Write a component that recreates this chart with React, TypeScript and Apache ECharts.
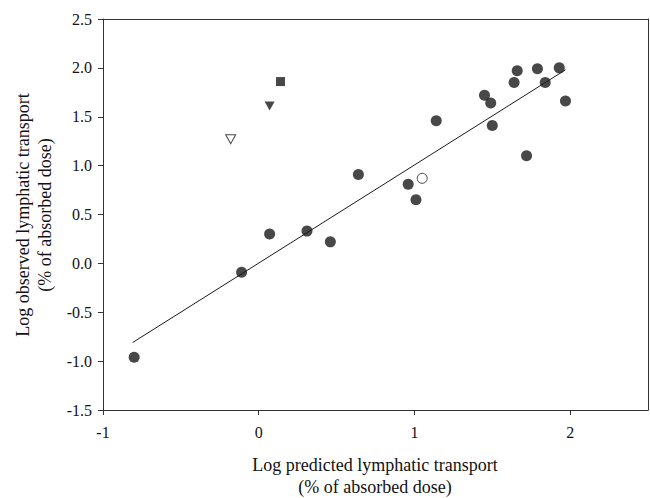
import React, { useEffect, useRef } from "react";
import * as echarts from "echarts";

// ---- data ----
const xTicks = [-1, 0, 1, 2];
const filledX = [-0.8, -0.11, 0.07, 0.31, 0.46, 0.64, 0.96, 1.01, 1.14, 1.45, 1.49, 1.5, 1.66, 1.64, 1.72, 1.79, 1.84, 1.93, 1.97];
const filledY = [-0.96, -0.09, 0.3, 0.33, 0.22, 0.91, 0.81, 0.65, 1.46, 1.72, 1.64, 1.41, 1.97, 1.85, 1.1, 1.99, 1.85, 2.0, 1.66];
const openCircleX = [1.05];
const openCircleY = [0.87];
const squareX = [0.14];
const squareY = [1.86];
const filledTriX = [0.07];
const filledTriY = [1.61];
const openTriX = [-0.18];
const openTriY = [1.27];
const fitX = [-0.81, 1.97];
const fitY = [-0.81, 1.98];

const xTitle = ["Log predicted lymphatic transport", "(% of absorbed dose)"];
const yTitle = ["Log observed lymphatic transport", "(% of absorbed dose)"];

const zip = (xs: number[], ys: number[]) => xs.map((x, i) => [x, ys[i]]);

const FONT = "'Liberation Serif', 'Times New Roman', serif";
const AXIS = "#333";
const INK = "#1a1a1a";

export default function App() {
  const ref = useRef<HTMLDivElement>(null);
  useEffect(() => {
    if (!ref.current) return;
    const chart = echarts.init(ref.current, null, { renderer: "svg" });
    const frameAxis = {
      type: "value",
      axisLine: { show: true, onZero: false, lineStyle: { color: AXIS, width: 1 } },
      axisTick: { show: false },
      axisLabel: { show: false },
      splitLine: { show: false },
    };
    chart.setOption({
      animation: false,
      backgroundColor: "#fff",
      grid: { left: 103, right: 2, top: 19, bottom: 88 },
      xAxis: [
        {
          type: "value",
          position: "bottom",
          min: -1,
          max: 2.5,
          interval: 1,
          axisLine: { show: true, onZero: false, lineStyle: { color: AXIS, width: 1 } },
          axisTick: { show: true, customValues: xTicks, length: 5, lineStyle: { color: AXIS } },
          axisLabel: {
            customValues: xTicks,
            formatter: (v: number) => String(v),
            color: "#111",
            fontFamily: FONT,
            fontSize: 16,
            margin: 14,
          },
          splitLine: { show: false },
        },
        { ...frameAxis, position: "top", min: -1, max: 2.5 },
      ],
      yAxis: [
        {
          type: "value",
          position: "left",
          min: -1.5,
          max: 2.5,
          interval: 0.5,
          axisLine: { show: true, onZero: false, lineStyle: { color: AXIS, width: 1 } },
          axisTick: { show: true, length: 5, lineStyle: { color: AXIS } },
          axisLabel: {
            formatter: (v: number) => v.toFixed(1),
            color: "#111",
            fontFamily: FONT,
            fontSize: 16,
            margin: 11,
          },
          splitLine: { show: false },
        },
        { ...frameAxis, position: "right", min: -1.5, max: 2.5 },
      ],
      graphic: [
        {
          type: "text",
          x: 375,
          y: 465,
          style: { text: xTitle[0], font: `18px ${FONT}`, fill: "#111", textAlign: "center", textVerticalAlign: "middle" },
        },
        {
          type: "text",
          x: 375,
          y: 487,
          style: { text: xTitle[1], font: `18px ${FONT}`, fill: "#111", textAlign: "center", textVerticalAlign: "middle" },
        },
        {
          type: "text",
          x: 23,
          y: 215,
          rotation: Math.PI / 2,
          style: { text: yTitle[0], font: `18px ${FONT}`, fill: "#111", textAlign: "center", textVerticalAlign: "middle" },
        },
        {
          type: "text",
          x: 45,
          y: 215,
          rotation: Math.PI / 2,
          style: { text: yTitle[1], font: `18px ${FONT}`, fill: "#111", textAlign: "center", textVerticalAlign: "middle" },
        },
      ],
      series: [
        {
          type: "line",
          data: zip(fitX, fitY),
          symbol: "none",
          lineStyle: { color: INK, width: 1 },
          z: 1,
        },
        {
          type: "scatter",
          data: zip(filledX, filledY),
          symbol: "circle",
          symbolSize: 11,
          itemStyle: { color: INK },
          z: 3,
        },
        {
          type: "scatter",
          data: zip(openCircleX, openCircleY),
          symbol: "circle",
          symbolSize: 10,
          itemStyle: { color: "#fff", borderColor: INK, borderWidth: 1 },
          z: 3,
        },
        {
          type: "scatter",
          data: zip(squareX, squareY),
          symbol: "rect",
          symbolSize: 9,
          itemStyle: { color: INK },
          z: 3,
        },
        {
          type: "scatter",
          data: zip(filledTriX, filledTriY),
          symbol: "triangle",
          symbolRotate: 180,
          symbolSize: [10, 9],
          itemStyle: { color: INK },
          z: 3,
        },
        {
          type: "scatter",
          data: zip(openTriX, openTriY),
          symbol: "triangle",
          symbolRotate: 180,
          symbolSize: [10, 9],
          itemStyle: { color: "#fff", borderColor: INK, borderWidth: 1 },
          z: 3,
        },
      ],
    });
    return () => chart.dispose();
  }, []);
  return (
    <div
      ref={ref}
      style={{ position: "fixed", left: 0, top: 0, width: 650, height: 498 }}
    />
  );
}
